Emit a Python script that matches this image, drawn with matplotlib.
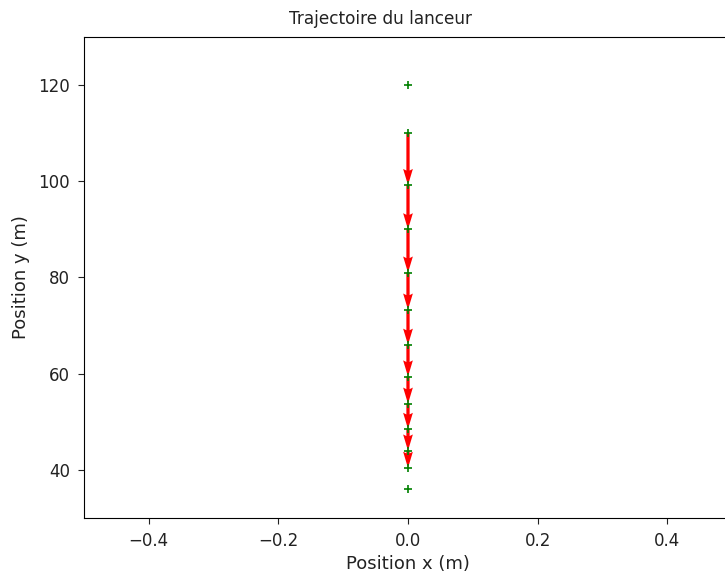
import matplotlib
matplotlib.use('Agg')
import matplotlib.pyplot as plt

# --- DATA: positions ---
pos_x = [0, 0, 0, 0, 0, 0, 0, 0, 0, 0, 0, 0, 0]
pos_y = [120, 110, 99.2, 90, 81, 73.3, 66, 59.4, 53.75, 48.5, 44, 40.4, 36.1]

# arrows join consecutive points from the 2nd one down to the 12th
arrow_start = 1
arrow_stop = 11

fig = plt.figure(figsize=(7.25, 5.75), dpi=100)
ax = fig.add_axes([84 / 725, 57 / 575, 648 / 725, 481 / 575])

xs = pos_x[arrow_start:arrow_stop]
ys = pos_y[arrow_start:arrow_stop]
us = [pos_x[i + 1] - pos_x[i] for i in range(arrow_start, arrow_stop)]
vs = [pos_y[i + 1] - pos_y[i] for i in range(arrow_start, arrow_stop)]
ax.quiver(xs, ys, us, vs, color='r', angles='xy', scale_units='xy', scale=1,
          width=0.005, headwidth=3, headlength=5, headaxislength=4.5, zorder=2)

ax.plot(pos_x, pos_y, 'g+', markersize=6, markeredgewidth=1.2, zorder=3)

ax.set_xlim(-0.5, 0.5)
ax.set_ylim(30, 130)
ax.set_yticks([40, 60, 80, 100, 120])
ax.tick_params(labelsize=12, length=4.5, pad=5.5, colors='#222222')
ax.set_xlabel('Position x (m)', fontsize=13, color='#222222')
ax.set_ylabel('Position y (m)', fontsize=13, color='#222222', labelpad=6)
ax.set_title('Trajectoire du lanceur', fontsize=12.2, x=0.457, pad=9, color='#222222')

fig.savefig('out.png', dpi=100)
